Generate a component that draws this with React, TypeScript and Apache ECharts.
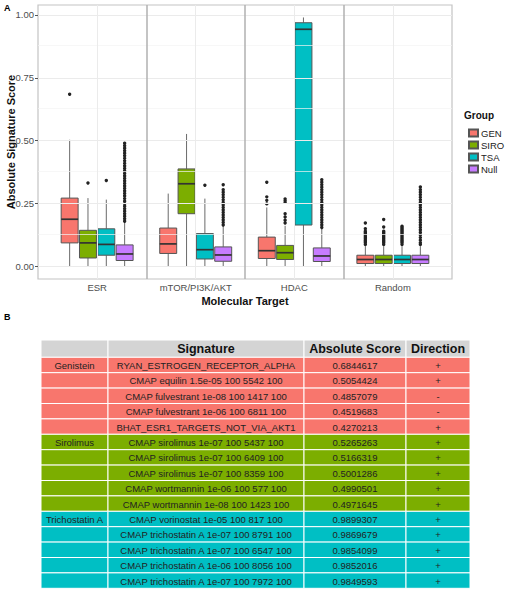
import React, { useEffect, useRef } from 'react';
import * as echarts from 'echarts';

const categories = ['ESR', 'mTOR/PI3K/AKT', 'HDAC', 'Random'];
const groups = ['GEN', 'SIRO', 'TSA', 'Null'];
const groupColors = ['#F8766D', '#7CAE00', '#00BFC4', '#C77CFF'];

// [lower whisker, Q1, median, Q3, upper whisker] for each category
const genBoxes = [
  [0.0, 0.094, 0.188, 0.272, 0.504],
  [0.002, 0.052, 0.09, 0.153, 0.29],
  [0.002, 0.032, 0.063, 0.117, 0.235],
  [0.001, 0.012, 0.028, 0.045, 0.082],
];
const siroBoxes = [
  [0.002, 0.034, 0.094, 0.144, 0.272],
  [0.002, 0.21, 0.329, 0.388, 0.527],
  [0.002, 0.028, 0.055, 0.084, 0.162],
  [0.001, 0.012, 0.028, 0.045, 0.082],
];
const tsaBoxes = [
  [0.002, 0.045, 0.088, 0.15, 0.266],
  [0.002, 0.03, 0.067, 0.131, 0.27],
  [0.0, 0.165, 0.943, 0.969, 0.99],
  [0.001, 0.012, 0.028, 0.045, 0.082],
];
const nullBoxes = [
  [0.001, 0.024, 0.05, 0.086, 0.176],
  [0.001, 0.021, 0.046, 0.078, 0.162],
  [0.001, 0.02, 0.042, 0.074, 0.152],
  [0.001, 0.012, 0.028, 0.045, 0.082],
];

// outliers, per category
const genOutliers = [
  [0.685],
  [],
  [0.249, 0.263, 0.277, 0.335],
  [0.088, 0.095, 0.1, 0.105, 0.11, 0.115, 0.12, 0.125, 0.13, 0.135, 0.14, 0.15, 0.173],
];
const siroOutliers = [
  [0.332],
  [],
  [0.173, 0.184, 0.197, 0.21, 0.255, 0.262, 0.269],
  [0.088, 0.095, 0.1, 0.105, 0.11, 0.115, 0.12, 0.125, 0.13, 0.135, 0.14, 0.157, 0.187],
];
const tsaOutliers = [
  [0.342],
  [0.323],
  [],
  [0.088, 0.095, 0.1, 0.105, 0.11, 0.115, 0.12, 0.125, 0.13, 0.135, 0.14, 0.145, 0.15, 0.155, 0.16],
];
const nullOutliers = [
  [0.18, 0.19, 0.2, 0.21, 0.22, 0.23, 0.24, 0.25, 0.26, 0.27, 0.28, 0.29, 0.3, 0.31, 0.32, 0.33,
    0.34, 0.35, 0.36, 0.37, 0.38, 0.39, 0.4, 0.41, 0.42, 0.43, 0.44, 0.45, 0.46, 0.47, 0.48, 0.49],
  [0.165, 0.175, 0.185, 0.195, 0.205, 0.215, 0.225, 0.235, 0.245, 0.255, 0.265, 0.275, 0.285,
    0.295, 0.305, 0.325],
  [0.155, 0.165, 0.175, 0.185, 0.195, 0.205, 0.215, 0.225, 0.235, 0.245, 0.255, 0.265, 0.275,
    0.285, 0.295, 0.305, 0.315, 0.325, 0.335, 0.345],
  [0.088, 0.095, 0.105, 0.115, 0.125, 0.135, 0.145, 0.155, 0.165, 0.175, 0.185, 0.195, 0.205,
    0.215, 0.225, 0.235, 0.245, 0.255, 0.265, 0.275, 0.285, 0.295, 0.305, 0.316],
];

const yTicks = [0, 0.25, 0.5, 0.75, 1];
const yMinorTicks = [0.125, 0.375, 0.625, 0.875];

// Table B
const tableHeaders = ['', 'Signature', 'Absolute Score', 'Direction'];
const tableDrugs = ['Genistein', 'Sirolimus', 'Trichostatin A'];
const tableRowGroup = [0, 0, 0, 0, 0, 1, 1, 1, 1, 1, 2, 2, 2, 2, 2];
const tableSignatures = [
  'RYAN_ESTROGEN_RECEPTOR_ALPHA',
  'CMAP equilin 1.5e-05 100 5542 100',
  'CMAP fulvestrant 1e-08 100 1417 100',
  'CMAP fulvestrant 1e-06 100 6811 100',
  'BHAT_ESR1_TARGETS_NOT_VIA_AKT1',
  'CMAP sirolimus 1e-07 100 5437 100',
  'CMAP sirolimus 1e-07 100 6409 100',
  'CMAP sirolimus 1e-07 100 8359 100',
  'CMAP wortmannin 1e-06 100 577 100',
  'CMAP wortmannin 1e-08 100 1423 100',
  'CMAP vorinostat 1e-05 100 817 100',
  'CMAP trichostatin A 1e-07 100 8791 100',
  'CMAP trichostatin A 1e-07 100 6547 100',
  'CMAP trichostatin A 1e-06 100 8056 100',
  'CMAP trichostatin A 1e-07 100 7972 100',
];
const tableScores = [
  '0.6844617', '0.5054424', '0.4857079', '0.4519683', '0.4270213',
  '0.5265263', '0.5166319', '0.5001286', '0.4990501', '0.4971645',
  '0.9899307', '0.9869679', '0.9854099', '0.9852016', '0.9849593',
];
const tableDirections = ['+', '+', '-', '-', '+', '+', '+', '+', '+', '+', '+', '+', '+', '+', '+'];

const FONT = '"Liberation Sans", Arial, Helvetica, sans-serif';
const dodge = [-1.5, -0.5, 0.5, 1.5];

function boxRenderer(gi: number) {
  return (params: any, api: any) => {
    const cat = api.value(0);
    const unit = api.size([1, 0])[0];
    const x = api.coord([cat, 0])[0] + dodge[gi] * unit * 0.186;
    const hw = unit * 0.086;
    const yLow = api.coord([cat, api.value(1)])[1];
    const yQ1 = api.coord([cat, api.value(2)])[1];
    const yMed = api.coord([cat, api.value(3)])[1];
    const yQ3 = api.coord([cat, api.value(4)])[1];
    const yHigh = api.coord([cat, api.value(5)])[1];
    const wh = { stroke: '#6a6a6a', lineWidth: 1 };
    return {
      type: 'group',
      children: [
        { type: 'line', shape: { x1: x, y1: yQ1, x2: x, y2: yLow }, style: wh },
        { type: 'line', shape: { x1: x, y1: yQ3, x2: x, y2: yHigh }, style: wh },
        {
          type: 'rect',
          shape: { x: x - hw, y: yQ3, width: hw * 2, height: yQ1 - yQ3 },
          style: { fill: groupColors[gi], stroke: '#555', lineWidth: 1 },
        },
        {
          type: 'line',
          shape: { x1: x - hw, y1: yMed, x2: x + hw, y2: yMed },
          style: { stroke: '#333', lineWidth: 1.7 },
        },
      ],
    };
  };
}

function outlierRenderer(gi: number) {
  return (params: any, api: any) => {
    const cat = api.value(0);
    const unit = api.size([1, 0])[0];
    const p = api.coord([cat, api.value(1)]);
    return {
      type: 'circle',
      shape: { cx: p[0] + dodge[gi] * unit * 0.186, cy: p[1], r: 1.7 },
      style: { fill: '#222' },
    };
  };
}

export default function App() {
  const ref = useRef<HTMLDivElement>(null);
  useEffect(() => {
    if (!ref.current) return;
    const chart = echarts.init(ref.current, null, { renderer: 'svg' });
    const allBoxes = [genBoxes, siroBoxes, tsaBoxes, nullBoxes];
    const allOutliers = [genOutliers, siroOutliers, tsaOutliers, nullOutliers];

    const series: any[] = [];
    const gridLine = (color: string, width: number) => ({ color, width, type: 'solid' });
    series.push({
      type: 'line',
      data: [],
      silent: true,
      z: 1,
      markLine: {
        silent: true,
        symbol: ['none', 'none'],
        label: { show: false },
        animation: false,
        data: [
          ...yMinorTicks.map((v) => ({ yAxis: v, lineStyle: gridLine('#f3f3f3', 0.7) })),
          ...yTicks.map((v) => ({ yAxis: v, lineStyle: gridLine('#ebebeb', 1) })),
          ...categories.map((_, i) => ({ xAxis: i + 1, lineStyle: gridLine('#ebebeb', 1) })),
          ...[1.5, 2.5, 3.5].map((v) => ({ xAxis: v, lineStyle: gridLine('#b0b0b0', 1.5) })),
        ],
      },
    });
    groups.forEach((g, gi) => {
      series.push({
        type: 'custom',
        name: g,
        z: 3,
        itemStyle: { color: groupColors[gi], borderColor: '#555', borderWidth: 1 },
        renderItem: boxRenderer(gi),
        encode: { x: 0, y: [1, 2, 3, 4, 5] },
        data: allBoxes[gi].map((b, i) => [i + 1, ...b]),
      });
      series.push({
        type: 'custom',
        name: g,
        z: 4,
        itemStyle: { color: groupColors[gi] },
        renderItem: outlierRenderer(gi),
        encode: { x: 0, y: 1 },
        data: allOutliers[gi].flatMap((vals, i) => vals.map((v) => [i + 1, v])),
      });
    });

    const graphics: any[] = [
      { type: 'text', left: 4, top: 3, style: { text: 'A', font: `bold 9px ${FONT}`, fill: '#000' } },
      { type: 'text', x: 464, y: 110, style: { text: 'Group', font: `bold 10px ${FONT}`, fill: '#111' } },
      { type: 'text', left: 4, top: 312, style: { text: 'B', font: `bold 9px ${FONT}`, fill: '#000' } },
    ];

    // Table
    const colX = [41, 108, 304, 406, 470];
    const headTop = 340;
    const headH = 17.3;
    const rowH = 15.4;
    for (let c = 0; c < 4; c++) {
      graphics.push({
        type: 'rect',
        shape: { x: colX[c], y: headTop, width: colX[c + 1] - colX[c], height: headH },
        style: { fill: '#d4d4d4', stroke: '#fff', lineWidth: 1 },
      });
      if (tableHeaders[c]) {
        graphics.push({
          type: 'text',
          style: {
            text: tableHeaders[c],
            x: (colX[c] + colX[c + 1]) / 2,
            y: headTop + headH / 2 + 0.5,
            textAlign: 'center',
            textVerticalAlign: 'middle',
            verticalAlign: 'middle',
            font: `bold 12.5px ${FONT}`,
            fill: '#111',
          },
        });
      }
    }
    tableSignatures.forEach((sig, r) => {
      const y = headTop + headH + r * rowH;
      const gi = tableRowGroup[r];
      const first = r === 0 || tableRowGroup[r - 1] !== gi;
      const cells = [first ? tableDrugs[gi] : '', sig, tableScores[r], tableDirections[r]];
      for (let c = 0; c < 4; c++) {
        graphics.push({
          type: 'rect',
          shape: { x: colX[c], y, width: colX[c + 1] - colX[c], height: rowH },
          style: { fill: groupColors[gi], stroke: '#fff', lineWidth: 1 },
        });
        if (cells[c]) {
          graphics.push({
            type: 'text',
            style: {
              text: cells[c],
              x: (colX[c] + colX[c + 1]) / 2,
              y: y + rowH / 2 + 0.5,
              textAlign: 'center',
              textVerticalAlign: 'middle',
              verticalAlign: 'middle',
              font: `9.5px ${FONT}`,
              fill: '#222',
            },
          });
        }
      }
    });

    chart.setOption({
      animation: false,
      textStyle: { fontFamily: FONT },
      grid: {
        left: 38,
        top: 5,
        width: 414,
        height: 274,
        containLabel: false,
        outerBoundsMode: 'none',
        show: true,
        backgroundColor: '#fff',
        borderColor: '#c4c4c4',
        borderWidth: 1.2,
      },
      legend: {
        data: groups,
        orient: 'vertical',
        left: 463,
        top: 123,
        icon: 'rect',
        itemWidth: 9,
        itemHeight: 7,
        itemGap: 2,
        selectedMode: false,
        textStyle: { fontSize: 9.5, color: '#222', fontFamily: FONT, padding: [0, 0, 0, -2] },
      },
      xAxis: {
        type: 'value',
        min: 0.4,
        max: 4.6,
        name: 'Molecular Target',
        nameLocation: 'middle',
        nameGap: 16,
        nameMoveOverlap: false,
        nameTextStyle: { fontSize: 11, fontWeight: 'bold', color: '#111' },
        axisLine: { show: false },
        axisTick: { show: true, customValues: [1, 2, 3, 4], length: 3, lineStyle: { color: '#555' } },
        axisLabel: {
          customValues: [1, 2, 3, 4],
          formatter: (v: number) => categories[Math.round(v) - 1] || '',
          fontSize: 9.5,
          color: '#4d4d4d',
          margin: 3,
        },
        splitLine: { show: false },
      },
      yAxis: {
        type: 'value',
        min: -0.0495,
        max: 1.0395,
        name: 'Absolute Signature Score',
        nameLocation: 'middle',
        nameGap: 22,
        nameMoveOverlap: false,
        nameTextStyle: { fontSize: 11, fontWeight: 'bold', color: '#111' },
        axisLine: { show: false },
        axisTick: { show: true, customValues: yTicks, length: 3, lineStyle: { color: '#555' } },
        axisLabel: {
          customValues: yTicks,
          formatter: (v: number) => v.toFixed(2),
          fontSize: 9.5,
          color: '#4d4d4d',
          margin: 4,
        },
        splitLine: { show: false },
      },
      graphic: graphics,
      series,
    });
    return () => chart.dispose();
  }, []);
  return (
    <div
      ref={ref}
      style={{ position: 'absolute', left: 0, top: 0, width: 510, height: 600, background: '#fff' }}
    />
  );
}
